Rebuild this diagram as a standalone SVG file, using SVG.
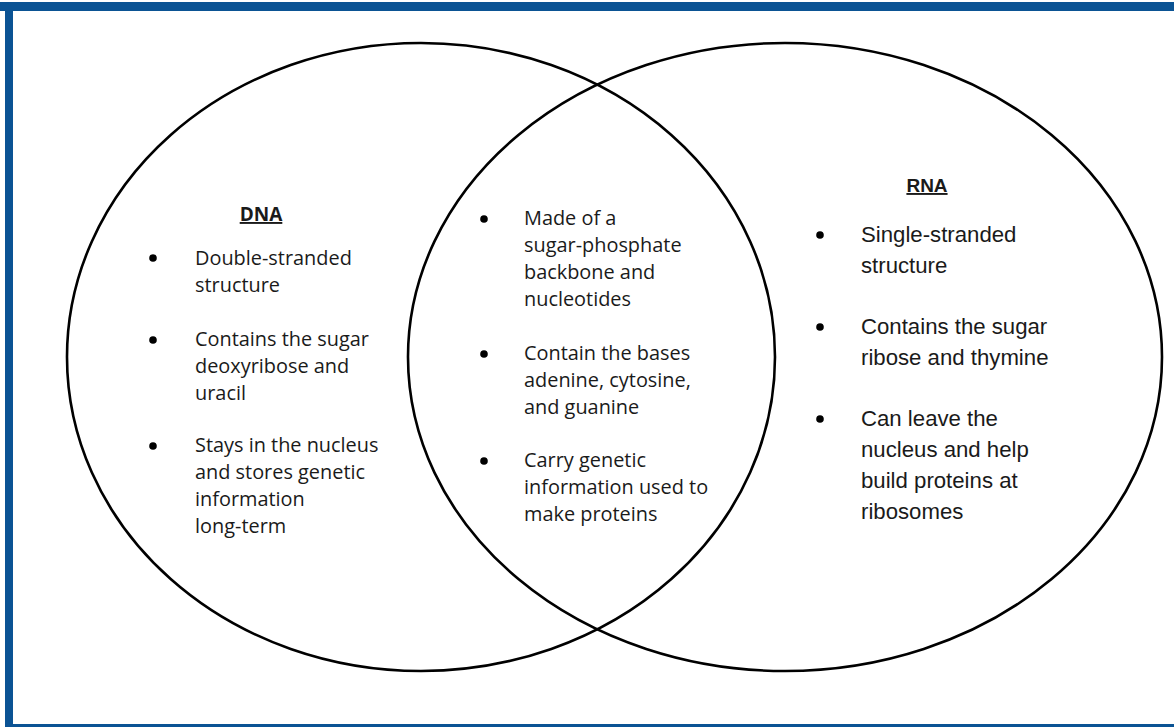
<svg xmlns="http://www.w3.org/2000/svg" width="1174" height="727" viewBox="0 0 1174 727">
<style>
.frame{fill:#0b5394}
.ring{fill:none;stroke:#000;stroke-width:2.6}
.t1{font-family:"Open Sans","Noto Sans",sans-serif;font-size:19.9px;fill:#1a1a1a}
.t2{font-family:"Liberation Sans",Arial,sans-serif;font-size:22.2px;fill:#1a1a1a}
.h1{font-family:"Open Sans","Noto Sans",sans-serif;font-size:19px;font-weight:bold;fill:#1a1a1a;text-decoration:underline}
.h2{font-family:"Liberation Sans",Arial,sans-serif;font-size:19px;font-weight:bold;fill:#1a1a1a;text-decoration:underline}
.dot{fill:#000}
</style>
<rect width="1174" height="727" fill="#fff"/>
<g id="border">
<rect class="frame" x="0" y="2" width="1174" height="9"/>
<rect class="frame" x="5" y="2" width="8" height="725"/>
<rect class="frame" x="5" y="724" width="1169" height="3"/>
</g>
<g id="connectors"></g>
<g id="dna-circle"><ellipse class="ring" cx="421" cy="357" rx="354" ry="314"/></g>
<g id="rna-circle"><ellipse class="ring" cx="785" cy="357" rx="377" ry="314"/></g>
<g id="dna">
<text class="h1" x="261" y="221" text-anchor="middle">DNA</text>
<circle class="dot" cx="153" cy="258" r="3.8"/>
<circle class="dot" cx="153" cy="340" r="3.8"/>
<circle class="dot" cx="153" cy="446" r="3.8"/>
<text class="t1"><tspan x="195" y="265">Double-stranded</tspan><tspan x="195" y="292">structure</tspan><tspan x="195" y="346">Contains the sugar</tspan><tspan x="195" y="373">deoxyribose and</tspan><tspan x="195" y="400">uracil</tspan><tspan x="195" y="452">Stays in the nucleus</tspan><tspan x="195" y="479">and stores genetic</tspan><tspan x="195" y="506">information</tspan><tspan x="195" y="533">long-term</tspan></text>
</g>
<g id="both">
<circle class="dot" cx="484" cy="219" r="3.8"/>
<circle class="dot" cx="484" cy="354" r="3.8"/>
<circle class="dot" cx="484" cy="461" r="3.8"/>
<text class="t1"><tspan x="524" y="225">Made of a</tspan><tspan x="524" y="252">sugar-phosphate</tspan><tspan x="524" y="279">backbone and</tspan><tspan x="524" y="306">nucleotides</tspan><tspan x="524" y="360">Contain the bases</tspan><tspan x="524" y="387">adenine, cytosine,</tspan><tspan x="524" y="414">and guanine</tspan><tspan x="524" y="467">Carry genetic</tspan><tspan x="524" y="494">information used to</tspan><tspan x="524" y="521">make proteins</tspan></text>
</g>
<g id="rna">
<text class="h2" x="927" y="192" text-anchor="middle">RNA</text>
<circle class="dot" cx="820" cy="235" r="3.8"/>
<circle class="dot" cx="820" cy="327" r="3.8"/>
<circle class="dot" cx="820" cy="419" r="3.8"/>
<text class="t2"><tspan x="861" y="242">Single-stranded</tspan><tspan x="861" y="273">structure</tspan><tspan x="861" y="334">Contains the sugar</tspan><tspan x="861" y="365">ribose and thymine</tspan><tspan x="861" y="426">Can leave the</tspan><tspan x="861" y="457">nucleus and help</tspan><tspan x="861" y="488">build proteins at</tspan><tspan x="861" y="519">ribosomes</tspan></text>
</g>
</svg>
